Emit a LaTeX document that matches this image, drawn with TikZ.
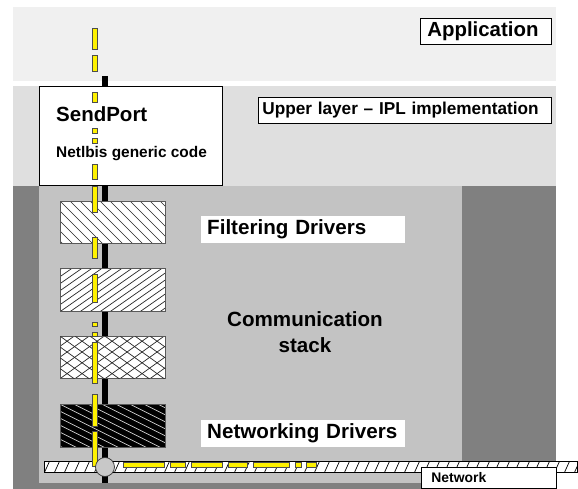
\documentclass[tikz,border=0pt]{standalone}
\usepackage{fontspec}
\setmainfont{Liberation Sans}
\definecolor{bandA}{HTML}{F0F0F0}
\definecolor{bandB}{HTML}{DFDFDF}
\definecolor{stackbg}{HTML}{C3C3C3}
\definecolor{darkbg}{HTML}{808080}
\definecolor{hubgray}{HTML}{C8C8C8}
\begin{document}
\begin{tikzpicture}[x=1pt,y=-1pt,
  lbl/.style={draw=black, fill=white, line width=0.8pt, inner ysep=0pt, anchor=north west, align=left},
  wlbl/.style={fill=white, inner ysep=0pt, anchor=north west, align=left},
  bigfont/.style={font=\fontsize{20.6pt}{26pt}\selectfont\bfseries},
  drv/.style={draw=black!65, line width=0.8pt, fill=white, anchor=north west, inner sep=0pt, minimum width=105pt},
  hatchdown/.style n args={3}{path picture={
      \foreach \k in {-20,...,14}
        \draw[#3] ([xshift={\k*#1pt}]path picture bounding box.north west) -- ++(100pt,{-100*#2pt});}},
  hatchup/.style n args={3}{path picture={
      \foreach \k in {-20,...,14}
        \draw[#3] ([xshift={\k*#1pt}]path picture bounding box.south west) -- ++(100pt,{100*#2pt});}},
  netpat/.style={path picture={
      \foreach \k in {-1,...,54}
        \draw[line width=0.7pt] ([xshift={\k*10pt}]path picture bounding box.south west) -- ++(5pt,11pt);}},
  ydash/.style={fill=yellow, draw=black!70, line width=0.5pt},
]
\useasboundingbox (0,0) rectangle (578,489);
\fill[white] (0,0) rectangle (578,489);
% layers
\fill[bandA] (13,7) rectangle (556,81);
\fill[bandB] (13,86) rectangle (556,186);
\fill[darkbg] (13,186) rectangle (556,489);
\fill[stackbg] (39,186) rectangle (462,483);

% main axis
\coordinate (axtop) at (105,76);
\coordinate (axbot) at (105,483);
\draw[line width=6pt] (axtop) -- (axbot);

% labels
\node[lbl, minimum height=26pt, inner xsep=7pt, text width=117pt,
      font=\fontsize{20.4pt}{24pt}\selectfont\bfseries] (app) at (420,18) {Application};
\node[lbl, minimum height=26pt, inner xsep=4pt, text width=285pt,
      font=\fontsize{17.2pt}{20pt}\selectfont\bfseries] (upper) at (258,97) {Upper layer -- IPL implementation};

% SendPort box
\node[draw=black, line width=1.1pt, fill=white, anchor=north west, inner sep=0pt,
      minimum width=183pt, minimum height=99pt] (sendport) at (39,86) {};
\node[anchor=base west, inner sep=0pt, font=\fontsize{20.5pt}{24pt}\selectfont\bfseries] (sptext) at (56,122) {SendPort};
\node[anchor=base west, inner sep=0pt, font=\fontsize{15.4pt}{18pt}\selectfont\bfseries] (nbtext) at (56,158) {Netlbis generic code};

% driver boxes
\node[drv, minimum height=42pt, hatchdown={10}{1}{line width=0.7pt, black!85}] (filt) at (60,201) {};
\node[drv, minimum height=43pt, hatchup={10}{0.7}{line width=0.7pt, black!85}] (drv2) at (60,268) {};
\node[drv, minimum height=42pt, hatchup={15}{0.72}{line width=0.7pt, black!85},
      postaction={hatchdown={15}{0.72}{line width=0.7pt, black!85}}] (drv3) at (60,336) {};
\node[drv, fill=black, minimum height=43pt, hatchdown={14}{0.5}{line width=0.7pt, white!85!black}] (netdrv) at (60,404) {};

\node[wlbl, bigfont, minimum height=27pt, inner xsep=6pt, text width=192pt] (filtlbl) at (201,216) {Filtering Drivers};
\node[wlbl, bigfont, minimum height=27pt, inner xsep=6pt, text width=192pt] (netdrvlbl) at (201,420) {Networking Drivers};
\node[bigfont, align=center, inner sep=0pt] (comm) at (305,332) {Communication\\stack};

% network bar
\node[draw=black, line width=0.9pt, fill=white, anchor=north west, inner sep=0pt,
      minimum width=533pt, minimum height=11pt, netpat] (net) at (44,461) {};

% yellow data path
\foreach \a/\b in {28/49,55/71,92/102,128/133,138/143,164/179,186/212,237/258,274/302,
                   322/326,332/336,342/383,394/426,431/466}
  \draw[ydash] (92,\a) rectangle (97,\b);
\foreach \a/\b in {123/164,170/185,191/222,228/247,253/289,295/301,306/316}
  \draw[ydash] (\a,462) rectangle (\b,467);

% hub
\node[circle, draw=black!80, line width=0.7pt, fill=hubgray, minimum size=19pt, inner sep=0pt] (hub) at (105,467) {};

% network label
\node[lbl, minimum height=21pt, inner xsep=10pt, text width=115pt,
      font=\fontsize{13.9pt}{16pt}\selectfont\bfseries] (netlbl) at (421,467) {Network};
\end{tikzpicture}
\end{document}
